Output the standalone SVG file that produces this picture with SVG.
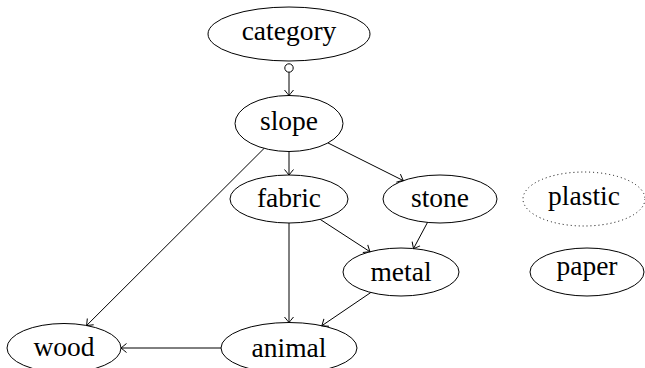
<svg xmlns="http://www.w3.org/2000/svg" width="645" height="368" viewBox="0 0 645 368">
<style>
.n ellipse{fill:none;stroke:#000;stroke-width:1}
.n text{font-family:"Liberation Serif","Times New Roman",serif;font-size:27.5px;text-anchor:middle;fill:#000}
.e line{stroke:#000;stroke-width:1;fill:none}
</style>
<defs>
<marker id="arr" viewBox="-7 -6 9 12" markerWidth="9" markerHeight="12" refX="0" refY="0" orient="auto" markerUnits="userSpaceOnUse">
<path d="M-5.5,-4.5 Q-1.5,-1.2 0,0 Q-1.5,1.2 -5.5,4.5" fill="none" stroke="#000" stroke-width="1"/>
</marker>
</defs>
<rect width="645" height="368" fill="#fff"/>
<g class="e" id="edges">
<circle cx="289" cy="68" r="4.2" fill="none" stroke="#000"/>
<line x1="289" y1="72.2" x2="289" y2="95.5" marker-end="url(#arr)"/>
<line x1="289" y1="151.5" x2="289" y2="175" marker-end="url(#arr)"/>
<line x1="327.9" y1="142.9" x2="403.3" y2="180.6" marker-end="url(#arr)"/>
<line x1="264.1" y1="148.4" x2="86.6" y2="325.5" marker-end="url(#arr)"/>
<line x1="320.2" y1="219.4" x2="369.9" y2="251.7" marker-end="url(#arr)"/>
<line x1="289" y1="223" x2="289" y2="322.5" marker-end="url(#arr)"/>
<line x1="427.5" y1="222.4" x2="413.5" y2="248.6" marker-end="url(#arr)"/>
<line x1="370.8" y1="292.5" x2="321.9" y2="325.7" marker-end="url(#arr)"/>
<line x1="221" y1="348" x2="121" y2="348" marker-end="url(#arr)"/>
</g>
<g class="n" id="category"><ellipse cx="289" cy="34" rx="81" ry="27"/><text x="289" y="40">category</text></g>
<g class="n" id="slope"><ellipse cx="289" cy="123.5" rx="54" ry="28"/><text x="289" y="129.5">slope</text></g>
<g class="n" id="fabric"><ellipse cx="289" cy="199" rx="59" ry="24"/><text x="289" y="207">fabric</text></g>
<g class="n" id="stone"><ellipse cx="440" cy="199" rx="57" ry="24"/><text x="440" y="207">stone</text></g>
<g class="n" id="plastic"><ellipse cx="584" cy="199" rx="61" ry="27" stroke-dasharray="1 3"/><text x="584" y="205">plastic</text></g>
<g class="n" id="metal"><ellipse cx="401" cy="272" rx="58" ry="24"/><text x="401" y="281">metal</text></g>
<g class="n" id="paper"><ellipse cx="587" cy="272" rx="57" ry="24"/><text x="587" y="275">paper</text></g>
<g class="n" id="wood"><ellipse cx="64" cy="348" rx="57" ry="24.5"/><text x="64" y="356">wood</text></g>
<g class="n" id="animal"><ellipse cx="289" cy="348" rx="68" ry="25.5"/><text x="289" y="356.5">animal</text></g>
</svg>
